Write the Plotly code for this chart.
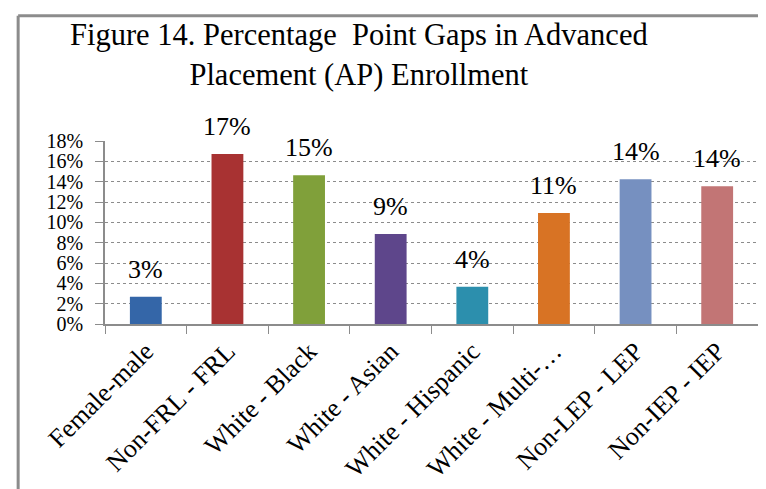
import plotly.graph_objects as go

categories = ["Female-male", "Non-FRL - FRL", "White - Black", "White - Asian",
              "White - Hispanic", "White - Multi-\u2026", "Non-LEP - LEP", "Non-IEP - IEP"]
gap_values = [2.68, 16.73, 14.64, 8.85, 3.66, 10.91, 14.25, 13.56]
value_labels = ["3%", "17%", "15%", "9%", "4%", "11%", "14%", "14%"]
bar_colors = ["#3466a8", "#a83232", "#80a03a", "#5e468b",
              "#2c8fad", "#d87324", "#7690c0", "#c27575"]
y_ticks = [0, 2, 4, 6, 8, 10, 12, 14, 16, 18]
y_tick_labels = [f"{v}%" for v in y_ticks]
title_text = "Figure 14. Percentage  Point Gaps in Advanced<br>Placement (AP) Enrollment"

FONT = "Liberation Serif, Times New Roman, serif"

fig = go.Figure(go.Bar(
    x=categories, y=gap_values,
    marker=dict(color=bar_colors, line=dict(width=0)),
    width=0.39, hoverinfo="x+y",
))

for c, v, t in zip(categories, gap_values, value_labels):
    fig.add_annotation(x=c, y=v, text=t, showarrow=False, yanchor="bottom",
                       yshift=11, font=dict(family=FONT, size=26, color="#000"))

# title as an annotation so both lines stay inside the page
fig.add_annotation(xref="paper", yref="paper", x=0.389, y=1.681,
                   xanchor="center", yanchor="top", showarrow=False,
                   text=title_text, align="center",
                   font=dict(family=FONT, size=30.5, color="#000"))

# chart border (top and left edges like the source image)
fig.add_shape(type="line", xref="paper", yref="paper", x0=-0.133, x1=1.03,
              y0=1.685, y1=1.685, line=dict(color="#8c8c8c", width=3))
fig.add_shape(type="line", xref="paper", yref="paper", x0=-0.133, x1=-0.133,
              y0=1.685, y1=-1.0, line=dict(color="#8c8c8c", width=3))

fig.update_layout(
    width=766, height=489,
    margin=dict(l=97, r=16, t=133, b=173),
    paper_bgcolor="white", plot_bgcolor="white",
    showlegend=False,
    font=dict(family=FONT, color="#000"),
    xaxis=dict(showline=True, linecolor="#8c8c8c", linewidth=1.5,
               ticks="outside", tickson="boundaries", ticklen=8, tickcolor="#8c8c8c",
               tickangle=-45, tickfont=dict(family=FONT, size=26, color="#000"),
               showgrid=False, automargin=False),
    yaxis=dict(range=[0, 18], tickvals=y_ticks, ticktext=y_tick_labels,
               showline=True, linecolor="#8c8c8c", linewidth=1.5,
               ticks="outside", ticklen=8, tickcolor="#8c8c8c",
               ticklabelstandoff=8,
               tickfont=dict(family=FONT, size=20, color="#000"),
               showgrid=True, gridcolor="#8c8c8c", griddash="dot", gridwidth=1,
               zeroline=False, automargin=False),
)

fig.write_html("out.html")
